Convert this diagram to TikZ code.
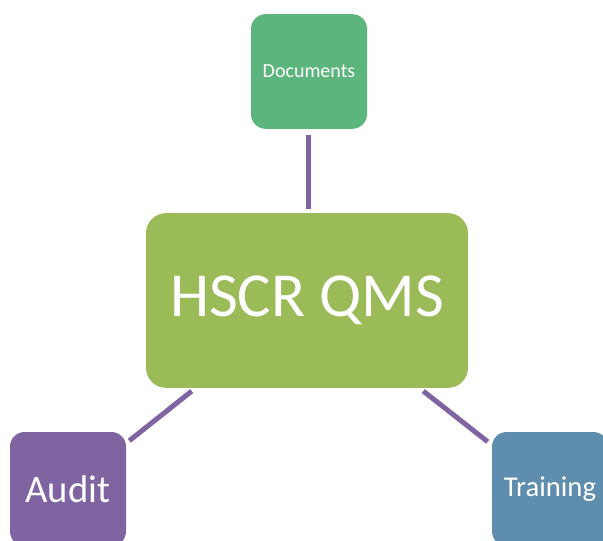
\documentclass[tikz,border=0pt]{standalone}
\usepackage{fontspec}
\setmainfont{Carlito}
\usetikzlibrary{calc}
\definecolor{docgreen}{HTML}{5CB57C}
\definecolor{qmsgreen}{HTML}{9BBB59}
\definecolor{auditpurple}{HTML}{8064A2}
\definecolor{trainblue}{HTML}{5F8DAE}
\definecolor{linepurple}{HTML}{8064A2}
\tikzset{
  box/.style={rectangle, rounded corners=11pt, draw=none, text=white, inner sep=0pt, minimum width=87pt, minimum height=86pt},
  conn/.style={draw=linepurple, line width=3.75pt}
}
\begin{document}
\begin{tikzpicture}[x=0.75pt,y=-0.75pt]
\useasboundingbox (0,0) rectangle (603,540);
\clip (0,0) rectangle (603,540);
\node[box, fill=docgreen, font=\fontsize{15}{18}\selectfont] (doc) at (309,71.5) {Documents};
\node[box, fill=qmsgreen, rounded corners=15pt, minimum width=241.5pt, minimum height=131pt, font=\fontsize{47}{56}\selectfont] (hscr) at (307,300.5) {HSCR QMS};
\node[box, fill=auditpurple, minimum height=85.5pt, font=\fontsize{29}{34}\selectfont] (audit) at (68,489) {Audit};
\node[box, fill=trainblue, minimum height=85.5pt, font=\fontsize{21.5}{26}\selectfont] (train) at (550,489) {Training};
\draw[conn] ($(doc.south)+(-1,5.5)$) -- ($(hscr.north)+(1,-3.5)$);
\draw[conn] ($(hscr.south west)+(46,3)$) -- ($(audit.north east)+(3,9)$);
\draw[conn] ($(hscr.south east)+(-45,3)$) -- ($(train.north west)+(-4,10)$);
\end{tikzpicture}
\end{document}
